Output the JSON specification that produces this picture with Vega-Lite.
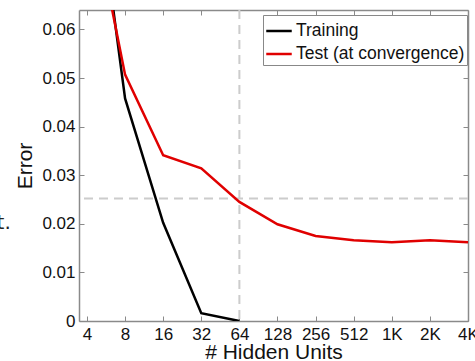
{
  "$schema": "https://vega.github.io/schema/vega-lite/v6.json",
  "width": 389,
  "height": 311,
  "autosize": {"type": "none"},
  "padding": {"left": 79, "top": 10, "right": 7, "bottom": 40},
  "background": "white",
  "config": {
    "font": "Liberation Sans",
    "view": {"stroke": null},
    "axis": {
      "domainColor": "#8a8a8a",
      "domainWidth": 1.5,
      "tickColor": "#8a8a8a",
      "tickSize": -5,
      "tickWidth": 1,
      "labelFontSize": 17,
      "labelColor": "#111111",
      "titleFontSize": 21,
      "titleFontWeight": "normal",
      "titleColor": "#111111",
      "grid": false
    }
  },
  "layer": [
    {
      "data": {"values": [{"x": 64}]},
      "mark": {"type": "rule", "color": "#cccccc", "strokeWidth": 2, "strokeDash": [9, 6]},
      "encoding": {
        "x": {"field": "x", "type": "quantitative",
              "scale": {"type": "log", "base": 2, "domain": [3.46, 4096], "nice": false},
              "axis": {"orient": "top", "labels": false, "title": null, "values": [4, 8, 16, 32, 64, 128, 256, 512, 1024, 2048, 4096]}}
      }
    },
    {
      "data": {"values": [{"y": 0.0252}]},
      "mark": {"type": "rule", "color": "#cccccc", "strokeWidth": 2, "strokeDash": [9, 6]},
      "encoding": {
        "y": {"field": "y", "type": "quantitative",
              "scale": {"domain": [0, 0.064], "nice": false, "zero": true},
              "axis": {"orient": "right", "labels": false, "title": null, "values": [0, 0.01, 0.02, 0.03, 0.04, 0.05, 0.06]}}
      }
    },
    {
      "data": {"values": [
        {"units": 4, "error": 0.105, "series": "Training"},
        {"units": 8, "error": 0.0458, "series": "Training"},
        {"units": 16, "error": 0.0202, "series": "Training"},
        {"units": 32, "error": 0.0016, "series": "Training"},
        {"units": 64, "error": 0.0, "series": "Training"},
        {"units": 4, "error": 0.090, "series": "Test (at convergence)"},
        {"units": 8, "error": 0.0507, "series": "Test (at convergence)"},
        {"units": 16, "error": 0.0341, "series": "Test (at convergence)"},
        {"units": 32, "error": 0.0314, "series": "Test (at convergence)"},
        {"units": 64, "error": 0.0245, "series": "Test (at convergence)"},
        {"units": 128, "error": 0.0199, "series": "Test (at convergence)"},
        {"units": 256, "error": 0.0175, "series": "Test (at convergence)"},
        {"units": 512, "error": 0.0166, "series": "Test (at convergence)"},
        {"units": 1024, "error": 0.0162, "series": "Test (at convergence)"},
        {"units": 2048, "error": 0.0166, "series": "Test (at convergence)"},
        {"units": 4096, "error": 0.0162, "series": "Test (at convergence)"}
      ]},
      "mark": {"type": "line", "clip": true, "strokeWidth": 2.5},
      "encoding": {
        "x": {"field": "units", "type": "quantitative",
              "scale": {"type": "log", "base": 2, "domain": [3.46, 4096], "nice": false},
              "axis": {"orient": "bottom", "title": "# Hidden Units", "titlePadding": -1,
                       "values": [4, 8, 16, 32, 64, 128, 256, 512, 1024, 2048, 4096],
                       "labelExpr": "datum.value >= 1024 ? (datum.value / 1024) + 'K' : '' + datum.value",
                       "labelPadding": 10, "labelFlush": false, "labelOverlap": false}},
        "y": {"field": "error", "type": "quantitative",
              "scale": {"domain": [0, 0.064], "nice": false, "zero": true},
              "axis": {"orient": "left", "title": "Error", "titlePadding": 6,
                       "values": [0, 0.01, 0.02, 0.03, 0.04, 0.05, 0.06],
                       "labelExpr": "datum.value == 0 ? '0' : format(datum.value, '.2f')",
                       "labelPadding": 9}},
        "color": {"field": "series", "type": "nominal",
                  "scale": {"domain": ["Training", "Test (at convergence)"], "range": ["#000000", "#e00000"]},
                  "legend": {"title": null, "orient": "none", "legendX": 184, "legendY": 5,
                             "symbolType": "stroke", "symbolSize": 650, "symbolStrokeWidth": 2.5,
                             "labelFontSize": 17.5, "labelColor": "#111111", "labelLimit": 300,
                             "strokeColor": "#888888", "fillColor": "white", "padding": 2,
                             "rowPadding": 0, "labelOffset": 3}}
      }
    },
    {
      "data": {"values": [{"x": 1, "y": 0.0189, "label": "t."}]},
      "mark": {"type": "text", "align": "right", "baseline": "alphabetic", "fontSize": 20, "font": "DejaVu Sans", "color": "#222222"},
      "encoding": {
        "x": {"field": "x", "type": "quantitative", "scale": {"type": "log", "base": 2, "domain": [3.46, 4096], "nice": false}, "axis": null},
        "y": {"field": "y", "type": "quantitative", "axis": null},
        "text": {"field": "label"}
      }
    }
  ],
  "resolve": {"axis": {"x": "independent", "y": "independent"}}
}
